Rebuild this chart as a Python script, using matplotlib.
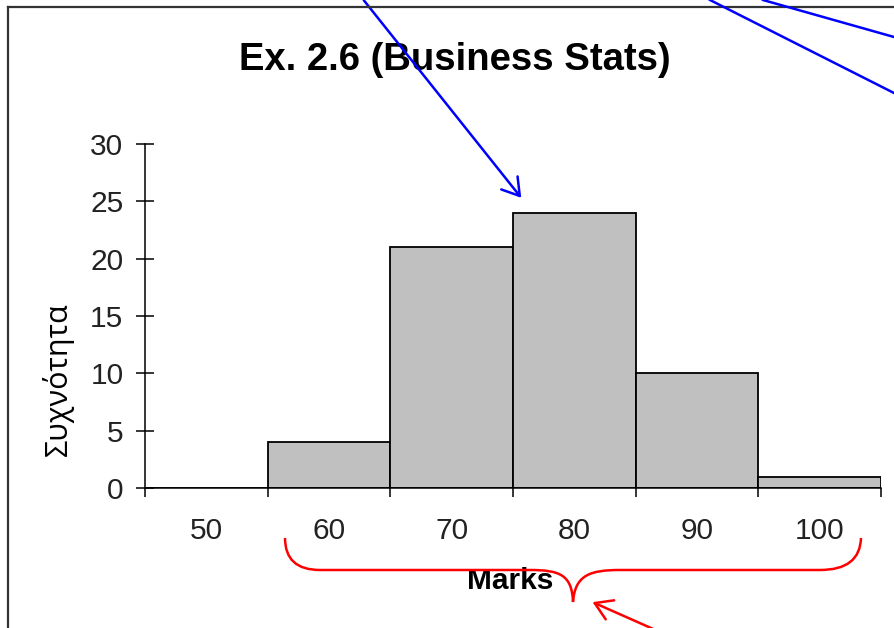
import numpy as np
import matplotlib
matplotlib.use('Agg')
import matplotlib.pyplot as plt
from matplotlib.patches import FancyArrowPatch
from matplotlib.path import Path
from matplotlib.patches import PathPatch

# Данные гистограммы
marks = ['50', '60', '70', '80', '90', '100']
freq = [0, 4, 21, 24, 10, 1]

plt.rcParams['font.family'] = ['Liberation Sans', 'DejaVu Sans']

W, H = 894, 628
fig = plt.figure(figsize=(W / 100, H / 100), dpi=100)

# Основные оси (в пикселях исходной картинки)
left, right, top, bottom = 145, 881, 144, 488
ax = fig.add_axes([left / W, 1 - bottom / H, (right - left) / W, (bottom - top) / H])

x = np.arange(len(marks))
ax.bar(x, freq, width=1.0, color='#c0c0c0', edgecolor='black', linewidth=1.3)
ax.set_xlim(-0.5, len(marks) - 0.5)
ax.set_ylim(0, 30)

ax.set_yticks(range(0, 31, 5))
ax.tick_params(axis='y', direction='inout', length=13, width=1.1, labelsize=21.5, pad=9,
               labelcolor='#222222')
ax.set_xticks(x)
ax.set_xticklabels(marks)
ax.set_xticks(np.arange(len(marks) + 1) - 0.5, minor=True)
ax.tick_params(axis='x', which='major', length=0, labelsize=21.5, pad=21, labelcolor='#222222')
ax.tick_params(axis='x', which='minor', direction='out', length=6.5, width=1.1)

for s in ['top', 'right']:
    ax.spines[s].set_visible(False)
for s in ['left', 'bottom']:
    ax.spines[s].set_linewidth(1.1)

# Заголовок и подписи
fig.text(455 / W, 1 - 60 / H, 'Ex. 2.6 (Business Stats)', ha='center', va='center',
         fontsize=27.5, fontweight='bold')
fig.text(510 / W, 1 - 581 / H, 'Marks', ha='center', va='center',
         fontsize=21.5, fontweight='bold')
fig.text(58 / W, 1 - 379 / H, 'Συχνότητα', ha='center', va='center', rotation=90,
         fontsize=22, family=['Open Sans', 'DejaVu Sans'])

# Накладной слой для рамки и пометок
ov = fig.add_axes([0, 0, 1, 1], zorder=10)
ov.set_xlim(0, W)
ov.set_ylim(H, 0)
ov.axis('off')
ov.patch.set_alpha(0)

# рамка слайда
ov.plot([8, W], [7, 7], color='#333333', lw=1.6)
ov.plot([8, 8], [7, H], color='#333333', lw=1.6)

# синие линии
ov.plot([710, 894], [0, 93], color='blue', lw=1.8)
ov.plot([763, 894], [0, 37], color='blue', lw=1.8)
ov.add_patch(FancyArrowPatch((362, -2), (523, 200), arrowstyle='->,head_length=8,head_width=5',
                             color='blue', lw=1.8, mutation_scale=1.5))

# красная фигурная скобка
verts = [(285, 538), (285, 570), (320, 570), (330, 570),
         (530, 570), (560, 570), (572, 575), (573, 602),
         (575, 575), (590, 570), (620, 570),
         (820, 570), (860, 570), (861, 538)]
codes = [Path.MOVETO, Path.CURVE3, Path.CURVE3, Path.LINETO,
         Path.LINETO, Path.CURVE4, Path.CURVE4, Path.CURVE4,
         Path.CURVE4, Path.CURVE4, Path.CURVE4,
         Path.LINETO, Path.CURVE3, Path.CURVE3]
ov.add_patch(PathPatch(Path(verts, codes), facecolor='none', edgecolor='red', lw=1.8))
ov.add_patch(FancyArrowPatch((660, 632), (590, 601), arrowstyle='->,head_length=8,head_width=5',
                             color='red', lw=1.8, mutation_scale=1.5))

fig.savefig('out.png', dpi=100)
